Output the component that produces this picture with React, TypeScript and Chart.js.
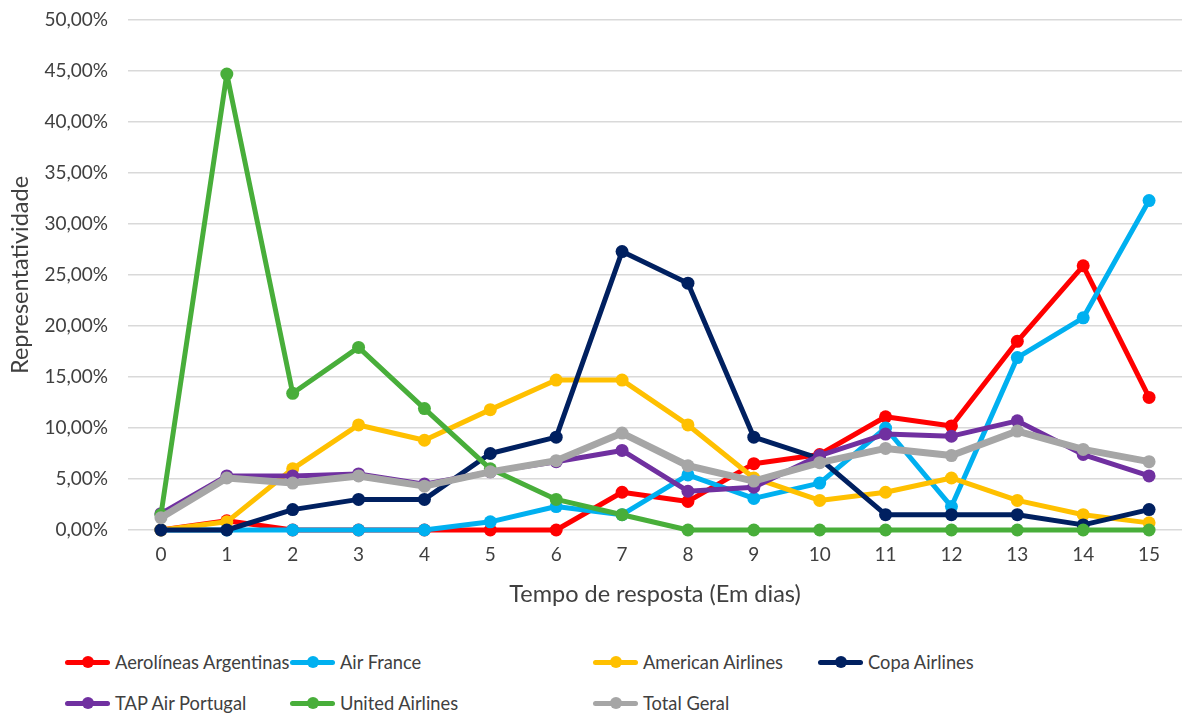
import React, { useEffect, useRef } from "react";
import { Chart, registerables } from "chart.js";

Chart.register(...registerables);

const dayLabels = ["0", "1", "2", "3", "4", "5", "6", "7", "8", "9", "10", "11", "12", "13", "14", "15"];

const aerolineasArgentinas = [0, 0.9, 0, 0, 0, 0, 0, 3.7, 2.8, 6.5, 7.4, 11.1, 10.2, 18.5, 25.9, 13.0];
const airFrance = [0, 0, 0, 0, 0, 0.8, 2.3, 1.5, 5.4, 3.1, 4.6, 10.0, 2.3, 16.9, 20.8, 32.3];
const americanAirlines = [0, 0.8, 6.0, 10.3, 8.8, 11.8, 14.7, 14.7, 10.3, 5.1, 2.9, 3.7, 5.1, 2.9, 1.5, 0.7];
const copaAirlines = [0, 0, 2.0, 3.0, 3.0, 7.5, 9.1, 27.3, 24.2, 9.1, 7.0, 1.5, 1.5, 1.5, 0.5, 2.0];
const tapAirPortugal = [1.6, 5.3, 5.3, 5.5, 4.5, 5.7, 6.7, 7.8, 3.8, 4.2, 7.3, 9.4, 9.2, 10.7, 7.4, 5.3];
const unitedAirlines = [1.5, 44.7, 13.4, 17.9, 11.9, 6.0, 3.0, 1.5, 0, 0, 0, 0, 0, 0, 0, 0];
const totalGeral = [1.2, 5.1, 4.6, 5.3, 4.3, 5.7, 6.8, 9.5, 6.3, 4.8, 6.6, 8.0, 7.3, 9.7, 7.9, 6.7];

const seriesNames = [
  "Aerolíneas Argentinas",
  "Air France",
  "American Airlines",
  "Copa Airlines",
  "TAP Air Portugal",
  "United Airlines",
  "Total Geral",
];
const seriesValues = [
  aerolineasArgentinas,
  airFrance,
  americanAirlines,
  copaAirlines,
  tapAirPortugal,
  unitedAirlines,
  totalGeral,
];
const seriesColors = ["#FF0000", "#00B0F0", "#FFC000", "#002060", "#7030A0", "#48AE3A", "#A6A6A6"];
const seriesWidths = [5, 5, 5, 5, 5, 5, 7];

const yTickMin = 0;
const yTickMax = 50;
const yTickStep = 5;

const FONT = "Lato, 'Open Sans', sans-serif";
const TEXT = "#404040";

// legend grid: column starts (px) and rows
const legendCols = [65, 290, 593, 818];
const legendRows = [662, 703];

export default function App() {
  const canvasRef = useRef<HTMLCanvasElement | null>(null);

  useEffect(() => {
    if (!canvasRef.current) return;
    const n = seriesNames.length;
    const chart = new Chart(canvasRef.current, {
      type: "line",
      data: {
        labels: dayLabels,
        datasets: seriesNames.map((name, i) => ({
          label: name,
          data: seriesValues[i],
          borderColor: seriesColors[i],
          backgroundColor: seriesColors[i],
          pointBackgroundColor: seriesColors[i],
          pointBorderColor: seriesColors[i],
          borderWidth: seriesWidths[i],
          borderJoinStyle: "round" as const,
          borderCapStyle: "round" as const,
          pointRadius: 6.5,
          pointBorderWidth: 0,
          tension: 0,
          fill: false,
          clip: false as any,
          order: n - i,
        })),
      },
      options: {
        animation: false,
        responsive: true,
        maintainAspectRatio: false,
        layout: { autoPadding: false, padding: { top: 20, right: 5, left: 0, bottom: 0 } },
        plugins: {
          legend: { display: false },
          tooltip: { enabled: false },
        },
        scales: {
          x: {
            type: "category",
            offset: true,
            afterFit: (axis: any) => {
              axis.height = 83;
            },
            grid: { display: false, drawTicks: false },
            border: { display: false },
            ticks: {
              padding: 13,
              color: TEXT,
              font: { family: FONT, size: 19 },
            },
            title: {
              display: true,
              text: "Tempo de resposta (Em dias)",
              color: TEXT,
              font: { family: FONT, size: 23.5 },
              padding: { top: 18, bottom: 4 },
            },
          },
          y: {
            min: yTickMin,
            max: yTickMax,
            afterFit: (axis: any) => {
              axis.width = 128;
            },
            grid: {
              color: "#D9D9D9",
              lineWidth: 1.5,
              drawTicks: true,
              tickLength: 20,
              tickColor: "rgba(0,0,0,0)",
            },
            border: { display: false },
            ticks: {
              stepSize: yTickStep,
              padding: 0,
              color: TEXT,
              font: { family: FONT, size: 19 },
              callback: (v: any) => Number(v).toFixed(2).replace(".", ",") + "%",
            },
            title: {
              display: true,
              text: "Representatividade",
              color: TEXT,
              font: { family: FONT, size: 23.5 },
              padding: { top: 6, bottom: 0 },
            },
          },
        },
      },
    });
    return () => chart.destroy();
  }, []);

  return (
    <div style={{ position: "absolute", left: 0, top: 0, width: 1187, height: 715, background: "#fff", overflow: "hidden" }}>
      <div style={{ position: "absolute", left: 0, top: 0, width: 1187, height: 613 }}>
        <canvas ref={canvasRef} />
      </div>
      {seriesNames.map((name, i) => {
        const col = i < 4 ? i : i - 4;
        const row = i < 4 ? 0 : 1;
        return (
          <div
            key={name}
            style={{
              position: "absolute",
              left: legendCols[col],
              top: legendRows[row] - 14,
              height: 28,
              display: "flex",
              alignItems: "center",
              fontFamily: FONT,
              fontSize: 18.3,
              color: TEXT,
              whiteSpace: "nowrap",
            }}
          >
            <div style={{ position: "relative", width: 45, height: 28, marginRight: 5 }}>
              <div
                style={{
                  position: "absolute",
                  left: 0,
                  right: 0,
                  top: 11.5,
                  height: 5,
                  borderRadius: 2.5,
                  background: seriesColors[i],
                }}
              />
              <div
                style={{
                  position: "absolute",
                  left: 16.5,
                  top: 8,
                  width: 12,
                  height: 12,
                  borderRadius: 6,
                  background: seriesColors[i],
                }}
              />
            </div>
            <span>{name}</span>
          </div>
        );
      })}
    </div>
  );
}
